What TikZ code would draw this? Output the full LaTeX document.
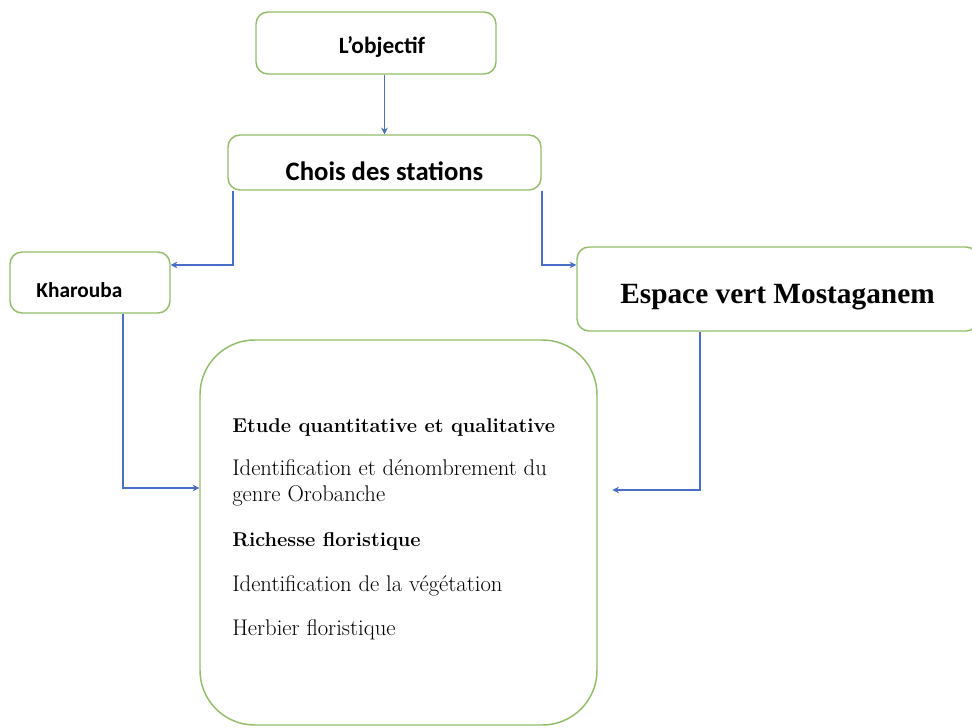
\documentclass[tikz,border=0pt]{standalone}
\usepackage{fontspec}
\usepackage{tikz}
\usetikzlibrary{arrows.meta}
\newfontfamily\calfont{Carlito}
\newfontfamily\timesfont{Liberation Serif}
\definecolor{boxgreen}{RGB}{146,190,106}
\definecolor{linkblue}{RGB}{72,110,200}

\tikzset{
  box/.style={draw=boxgreen, line width=1.1pt, rounded corners=9pt, fill=white, inner sep=0pt},
  conn/.style={draw=linkblue, line width=1.2pt, ->},
  item/.style={anchor=base west, inner sep=0pt, font=\fontsize{17}{19}\selectfont},
  itembold/.style={item, font=\bfseries\fontsize{15}{18}\selectfont},
}

\begin{document}
\begin{tikzpicture}[x=0.75pt, y=-0.75pt, >={Stealth[length=5pt,width=5pt]}]
\useasboundingbox (0,0) rectangle (972,728);
\clip (0,0) rectangle (972,728);

% Boxes
\node[box, minimum width=180pt, minimum height=46.5pt,
  label={[font=\calfont\bfseries\fontsize{17.5}{20}\selectfont, yshift=-3pt, xshift=4.5pt]center:L’objectif}] (objectif) at (376,43) {};
\node[box, minimum width=234.75pt, minimum height=41.25pt,
  label={[font=\calfont\bfseries\fontsize{20}{24}\selectfont, yshift=-6.4pt]center:Chois des stations}] (choix) at (384.5,162.5) {};
\node[box, minimum width=120pt, minimum height=45.75pt,
  label={[font=\calfont\bfseries\fontsize{16}{19}\selectfont, yshift=-5.5pt, xshift=-8pt]center:Kharouba}] (kharouba) at (90,282.5) {};
\node[box, minimum width=300.75pt, minimum height=63pt,
  label={[font=\timesfont\bfseries\fontsize{22}{26}\selectfont, yshift=-6pt]center:Espace vert Mostaganem}] (espace) at (777.5,289) {};
\node[box, rounded corners=41pt, minimum width=297.75pt, minimum height=288.75pt] (etude) at (398.5,532.5) {};

% Text of the big box
\node[itembold] (t1) at (232,432) {Etude quantitative et qualitative};
\node[item] (t2) at (232,475) {Identification et dénombrement du};
\node[item] (t3) at (232,501) {genre Orobanche};
\node[itembold] (t4) at (232,546) {Richesse floristique};
\node[item] (t5) at (232,591) {Identification de la végétation};
\node[item] (t6) at (232,635) {Herbier floristique};

% Connectors
\draw[conn] (objectif.south -| choix.north) -- (choix.north);
\draw[conn] (choix.south west -| 233,0) |- (kharouba.east |- 0,265);
\draw[conn] (choix.south east) |- (espace.west |- 0,265);
\draw[conn] (kharouba.south -| 123,0) |- (etude.west |- 0,488);
\draw[conn, shorten >=11pt] (espace.south -| 700,0) |- (etude.east |- 0,490);
\end{tikzpicture}
\end{document}
